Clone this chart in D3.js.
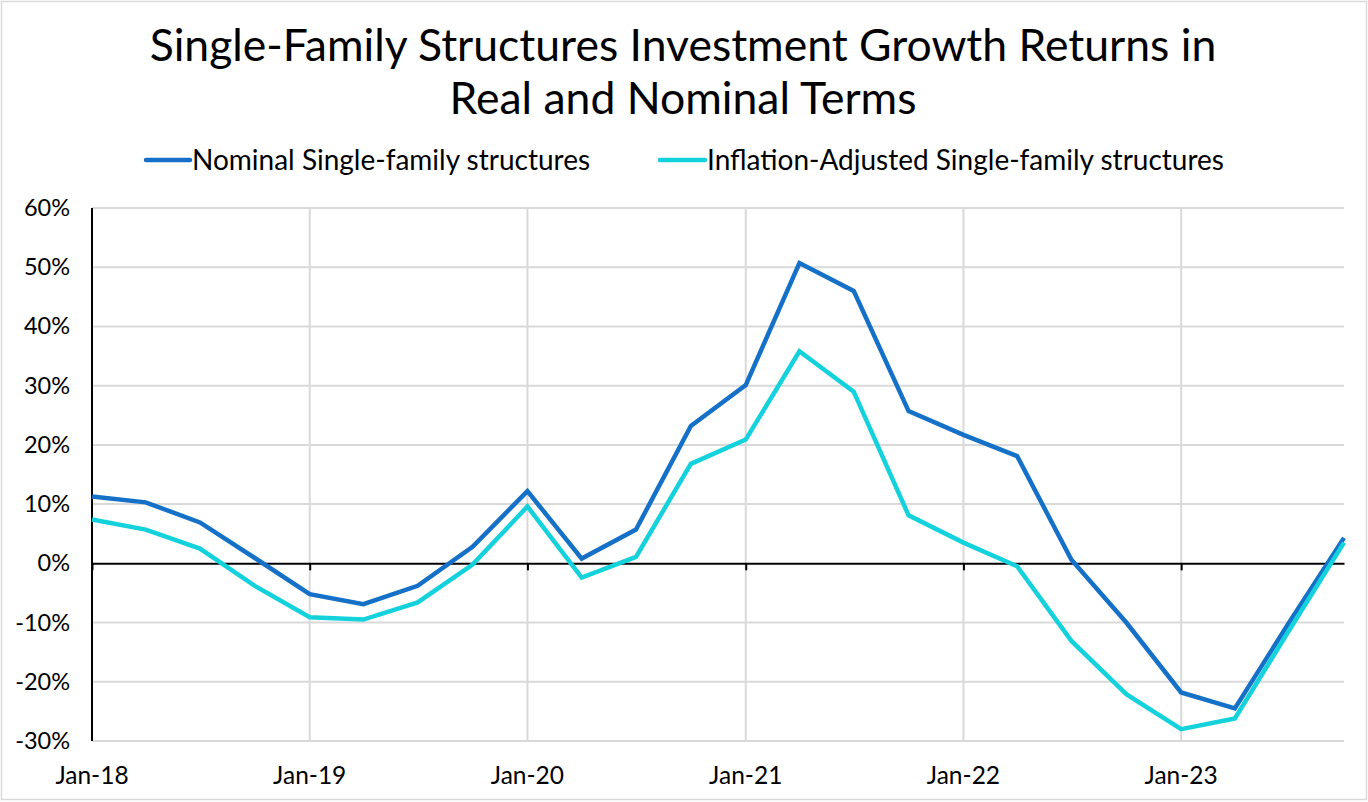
<!DOCTYPE html>
<html>
<head>
<meta charset="utf-8">
<script src="https://cdn.jsdelivr.net/npm/d3@7"></script>
<style>
  html, body { margin: 0; padding: 0; background: #fff; }
  svg { display: block; font-family: Lato, "Open Sans", sans-serif; }
</style>
</head>
<body>
<svg id="chart" width="1368" height="802"></svg>
<script>
const dates = ["2018-01-01","2018-04-01","2018-07-01","2018-10-01",
               "2019-01-01","2019-04-01","2019-07-01","2019-10-01",
               "2020-01-01","2020-04-01","2020-07-01","2020-10-01",
               "2021-01-01","2021-04-01","2021-07-01","2021-10-01",
               "2022-01-01","2022-04-01","2022-07-01","2022-10-01",
               "2023-01-01","2023-04-01","2023-07-01","2023-10-01"];
const nominal = [11.3, 10.3, 6.9, 0.9,
                 -5.2, -6.9, -3.8, 2.8,
                 12.2, 0.8, 5.7, 23.2,
                 30.1, 50.7, 46.0, 25.7,
                 21.7, 18.1, 0.6, -10.0,
                 -21.8, -24.5, -10.0, 4.3];
const realAdj = [7.4, 5.7, 2.5, -3.8,
                 -9.1, -9.5, -6.6, -0.2,
                 9.6, -2.4, 1.1, 16.8,
                 20.9, 35.8, 29.0, 8.1,
                 3.5, -0.5, -13.1, -22.1,
                 -28.0, -26.2, -11.3, 3.5];
const seriesNames = ["Nominal Single-family structures", "Inflation-Adjusted Single-family structures"];
const seriesColors = ["#1570c8", "#14d2dc"];
const yTicks = [-30, -20, -10, 0, 10, 20, 30, 40, 50, 60];
const xTickDates = ["2018-01-01","2019-01-01","2020-01-01","2021-01-01","2022-01-01","2023-01-01"];
const titleLines = ["Single-Family Structures Investment Growth Returns in", "Real and Nominal Terms"];

const parse = d3.utcParse("%Y-%m-%d");
const svg = d3.select("#chart");
const W = 1368, H = 802;
const m = {left: 92, right: 1344, top: 208, bottom: 741};

// outer border
svg.append("rect").attr("x", 1.5).attr("y", 1.5).attr("width", W - 3).attr("height", H - 4)
  .attr("fill", "#fff").attr("stroke", "#d9d9d9").attr("stroke-width", 1.5);

const x = d3.scaleUtc().domain([parse(dates[0]), parse(dates[dates.length - 1])]).range([m.left, m.right]);
const y = d3.scaleLinear().domain([-30, 60]).range([m.bottom, m.top]);

// horizontal grid
svg.append("g").selectAll("line").data(yTicks.filter(t => t !== 0)).join("line")
  .attr("x1", m.left).attr("x2", m.right)
  .attr("y1", d => y(d)).attr("y2", d => y(d))
  .attr("stroke", "#d9d9d9").attr("stroke-width", 2);

// vertical grid
svg.append("g").selectAll("line").data(xTickDates.slice(1)).join("line")
  .attr("x1", d => x(parse(d))).attr("x2", d => x(parse(d)))
  .attr("y1", m.top).attr("y2", m.bottom)
  .attr("stroke", "#d9d9d9").attr("stroke-width", 2);

// y axis labels
const yAxis = d3.axisLeft(y).tickValues(yTicks).tickFormat(d => d + "%").tickSize(0).tickPadding(22);
const yg = svg.append("g").attr("transform", `translate(${m.left},0)`).call(yAxis);
yg.select(".domain").remove();
yg.selectAll("text").attr("font-size", 23.5).attr("fill", "#000").attr("font-family", "Lato");

// y axis line
svg.append("line").attr("x1", m.left).attr("x2", m.left).attr("y1", m.top).attr("y2", m.bottom)
  .attr("stroke", "#000").attr("stroke-width", 2);

// zero axis with ticks
const xAxis = d3.axisBottom(x).tickValues(xTickDates.map(parse)).tickFormat("").tickSize(7).tickSizeOuter(0);
const xg = svg.append("g").attr("transform", `translate(0,${y(0)})`).call(xAxis);
xg.select(".domain").attr("stroke", "#000").attr("stroke-width", 2);
xg.selectAll(".tick line").attr("stroke", "#000").attr("stroke-width", 2);

// x labels at bottom
svg.append("g").selectAll("text").data(xTickDates).join("text")
  .attr("x", d => x(parse(d))).attr("y", 784)
  .attr("text-anchor", "middle").attr("font-size", 24.5).attr("fill", "#000")
  .text(d => d3.utcFormat("%b-%y")(parse(d)));

// lines
const line = d3.line().x((d, i) => x(parse(dates[i]))).y(d => y(d));
[nominal, realAdj].forEach((s, k) => {
  svg.append("path").datum(s).attr("d", line)
    .attr("fill", "none").attr("stroke", seriesColors[k]).attr("stroke-width", 4.5)
    .attr("stroke-linejoin", "miter").attr("stroke-linecap", "butt");
});

// title
svg.append("g").selectAll("text").data(titleLines).join("text")
  .attr("x", 683).attr("y", (d, i) => 61 + i * 53)
  .attr("text-anchor", "middle").attr("font-size", 44.5).attr("fill", "#000")
  .text(d => d);

// legend
const legendItems = [{x: 146, tx: 192}, {x: 660, tx: 707}];
legendItems.forEach((it, k) => {
  svg.append("line").attr("x1", it.x).attr("x2", it.tx - 2).attr("y1", 160).attr("y2", 160)
    .attr("stroke", seriesColors[k]).attr("stroke-width", 4.5).attr("stroke-linecap", "round");
  svg.append("text").attr("x", it.tx).attr("y", 170).attr("font-size", 28).attr("fill", "#000")
    .text(seriesNames[k]);
});
</script>
</body>
</html>
